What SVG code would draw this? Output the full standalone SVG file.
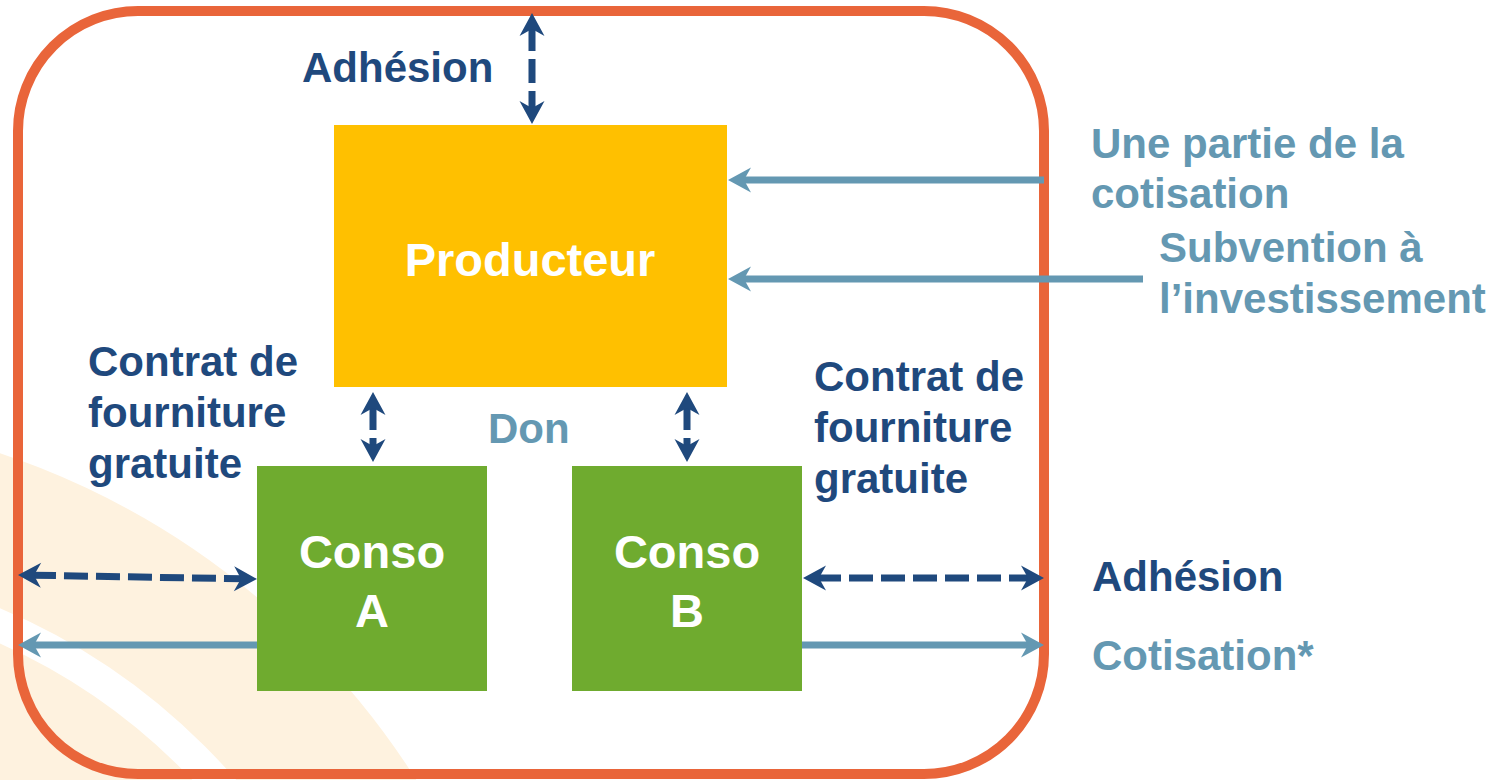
<svg xmlns="http://www.w3.org/2000/svg" width="1512" height="780" viewBox="0 0 1512 780">
  <style>
    .lbl { font-family: "Liberation Sans", Arial, sans-serif; font-weight: bold; font-size: 42px; }
    .dark { fill: #1F497D; }
    .light { fill: #6498B2; }
    .node-txt { font-family: "Liberation Sans", Arial, sans-serif; font-weight: bold; font-size: 47px; fill: #FFFFFF; text-anchor: middle; }
    .dash { stroke: #1F497D; stroke-width: 7; fill: none; stroke-dasharray: 24 8; }
    .solid { stroke: #6498B2; stroke-width: 7; fill: none; }
    .band { fill: none; stroke: #FEF2DF; }
  </style>
  <defs>
    <marker id="ahDark" viewBox="-25 -14 28 28" refX="-14" refY="0" markerWidth="28" markerHeight="28" markerUnits="userSpaceOnUse" orient="auto-start-reverse">
      <path d="M0,0 L-23,-12.5 L-16,0 L-23,12.5 Z" fill="#1F497D"/>
    </marker>
    <marker id="ahLight" viewBox="-25 -14 28 28" refX="-14" refY="0" markerWidth="28" markerHeight="28" markerUnits="userSpaceOnUse" orient="auto-start-reverse">
      <path d="M0,0 L-23,-12.5 L-16,0 L-23,12.5 Z" fill="#6498B2"/>
    </marker>
  </defs>
  <rect x="0" y="0" width="1512" height="780" fill="#FFFFFF"/>
  <g id="background">
    <circle class="band" cx="-250" cy="1200" r="715" stroke-width="145"/>
    <circle class="band" cx="-250" cy="1200" r="545" stroke-width="130"/>
    <circle class="band" cx="-250" cy="1200" r="375" stroke-width="110"/>
  </g>
  <g id="frame">
    <rect x="18" y="11" width="1026" height="763" rx="120" ry="120" fill="none" stroke="#E9653A" stroke-width="10"/>
  </g>
  <g id="producteur">
    <rect x="334" y="125" width="393" height="262" fill="#FFC000"/>
    <text class="node-txt" x="530" y="276">Producteur</text>
  </g>
  <g id="conso-a">
    <rect x="257" y="466" width="230" height="225" fill="#6FAB2F"/>
    <text class="node-txt" x="372" y="568">Conso</text>
    <text class="node-txt" x="372" y="627">A</text>
  </g>
  <g id="conso-b">
    <rect x="572" y="466" width="230" height="225" fill="#6FAB2F"/>
    <text class="node-txt" x="687" y="568">Conso</text>
    <text class="node-txt" x="687" y="627">B</text>
  </g>
  <g id="connectors">
    <line class="dash" x1="532" y1="27" x2="532" y2="110" marker-start="url(#ahDark)" marker-end="url(#ahDark)"/>
    <line class="solid" x1="1044" y1="180" x2="742" y2="180" marker-end="url(#ahLight)"/>
    <line class="solid" x1="1143" y1="279" x2="742" y2="279" marker-end="url(#ahLight)"/>
    <line class="dash" x1="373" y1="406" x2="373" y2="448" marker-start="url(#ahDark)" marker-end="url(#ahDark)"/>
    <line class="dash" x1="687" y1="406" x2="687" y2="448" marker-start="url(#ahDark)" marker-end="url(#ahDark)"/>
    <line class="dash" x1="32" y1="575.2" x2="243" y2="578.8" marker-start="url(#ahDark)" marker-end="url(#ahDark)"/>
    <line class="solid" x1="257" y1="645" x2="32" y2="645" marker-end="url(#ahLight)"/>
    <line class="dash" x1="817" y1="578" x2="1030" y2="578" marker-start="url(#ahDark)" marker-end="url(#ahDark)"/>
    <line class="solid" x1="802" y1="645" x2="1030" y2="645" marker-end="url(#ahLight)"/>
  </g>
  <g id="labels">
    <text class="lbl dark" x="302" y="82">Adhésion</text>
    <text class="lbl light" x="1091" y="158">Une partie de la</text>
    <text class="lbl light" x="1091" y="208">cotisation</text>
    <text class="lbl light" x="1159" y="262">Subvention à</text>
    <text class="lbl light" x="1159" y="313">l’investissement</text>
    <text class="lbl dark" x="88" y="376">Contrat de</text>
    <text class="lbl dark" x="88" y="427">fourniture</text>
    <text class="lbl dark" x="88" y="478">gratuite</text>
    <text class="lbl light" x="488" y="443">Don</text>
    <text class="lbl dark" x="814" y="391">Contrat de</text>
    <text class="lbl dark" x="814" y="442">fourniture</text>
    <text class="lbl dark" x="814" y="493">gratuite</text>
    <text class="lbl dark" x="1092" y="591">Adhésion</text>
    <text class="lbl light" x="1092" y="670">Cotisation*</text>
  </g>
</svg>
